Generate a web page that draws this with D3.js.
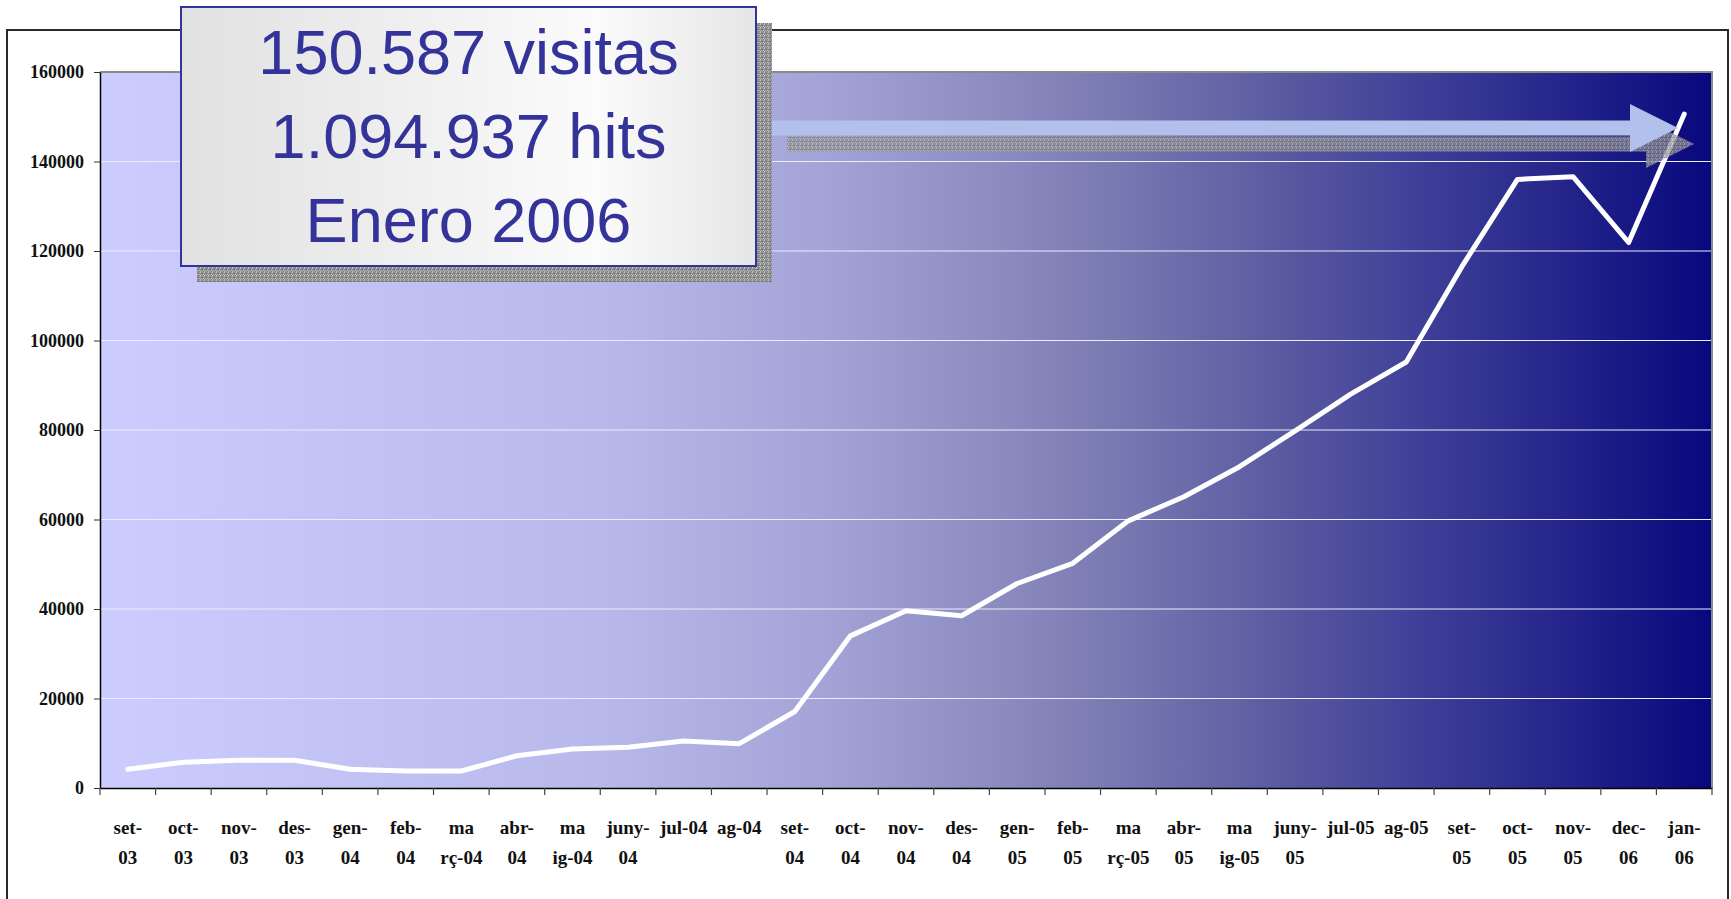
<!DOCTYPE html>
<html>
<head>
<meta charset="utf-8">
<script src="https://cdn.jsdelivr.net/npm/d3@7"></script>
<style>
  body { margin: 0; background: #fff; }
  svg { display: block; }
</style>
</head>
<body>
<div id="chart"></div>
<script>
// Monthly visits, set-03 .. jan-06
const categories = ['set-03', 'oct-03', 'nov-03', 'des-03', 'gen-04', 'feb-04', 'març-04', 'abr-04', 'maig-04', 'juny-04',
    'jul-04', 'ag-04', 'set-04', 'oct-04', 'nov-04', 'des-04', 'gen-05', 'feb-05', 'març-05', 'abr-05',
    'maig-05', 'juny-05', 'jul-05', 'ag-05', 'set-05', 'oct-05', 'nov-05', 'dec-06', 'jan-06'];
// how the labels wrap in the original (two lines)
const labelLines = [['set-', '03'], ['oct-', '03'], ['nov-', '03'], ['des-', '03'], ['gen-', '04'], ['feb-', '04'],
    ['ma', 'rç-04'], ['abr-', '04'], ['ma', 'ig-04'], ['juny-', '04'], ['jul-04', ''], ['ag-04', ''],
    ['set-', '04'], ['oct-', '04'], ['nov-', '04'], ['des-', '04'], ['gen-', '05'], ['feb-', '05'],
    ['ma', 'rç-05'], ['abr-', '05'], ['ma', 'ig-05'], ['juny-', '05'], ['jul-05', ''], ['ag-05', ''],
    ['set-', '05'], ['oct-', '05'], ['nov-', '05'], ['dec-', '06'], ['jan-', '06']];
const visits = [4200, 5750, 6200, 6200, 4200, 3800, 3800, 7200, 8700, 9100,
    10500, 9900, 17100, 34000, 39600, 38500, 45700, 50200, 59700, 65100,
    71800, 79800, 88000, 95200, 116500, 136000, 136600, 121900, 150587];
const yTicks = [0, 20000, 40000, 60000, 80000, 100000, 120000, 140000, 160000];
const boxLines = ['150.587 visitas', '1.094.937 hits', 'Enero 2006'];

const W = 1731, H = 899;
const margin = { top: 72, right: 19, bottom: 111, left: 100 };

const svg = d3.select('#chart').append('svg')
    .attr('width', W)
    .attr('height', H);

const defs = svg.append('defs');

// plot area gradient
const grad = defs.append('linearGradient').attr('id', 'plotGrad');
[[0, '#ccccff'], [0.31, '#b8b8ea'], [0.45, '#a3a3d7'], [0.56, '#8b8bc0'], [0.62, '#7c7cb4'],
 [0.745, '#56569f'], [0.81, '#42429a'], [0.87, '#303090'], [1, '#08087e']].forEach(s => {
    grad.append('stop').attr('offset', s[0]).attr('stop-color', s[1]);
});

// text box gradient
const boxGrad = defs.append('linearGradient').attr('id', 'boxGrad');
boxGrad.append('stop').attr('offset', 0).attr('stop-color', '#e1e1e1');
boxGrad.append('stop').attr('offset', 0.72).attr('stop-color', '#fbfbfb');
boxGrad.append('stop').attr('offset', 1).attr('stop-color', '#e6e6e6');

// stippled shadow texture
const pat = defs.append('pattern').attr('id', 'stipple')
    .attr('width', 4).attr('height', 4).attr('patternUnits', 'userSpaceOnUse');
pat.append('rect').attr('width', 4).attr('height', 4).attr('fill', '#8e8e8e');
[[0, 0, '#b4b4b4'], [2, 1, '#6c6c6c'], [1, 2, '#aaaaaa'], [3, 3, '#767676'], [3, 0, '#9c9c9c'],
 [0, 3, '#c2c2c2'], [1, 1, '#808080'], [2, 3, '#a0a0a0'], [3, 2, '#c8c8c8']].forEach(p => {
    pat.append('rect').attr('x', p[0]).attr('y', p[1]).attr('width', 1).attr('height', 1).attr('fill', p[2]);
});

// outer chart frame
svg.append('rect')
    .attr('x', 7).attr('y', 30)
    .attr('width', 1721).attr('height', 900)
    .attr('fill', '#fff')
    .attr('stroke', '#2a2a2a')
    .attr('stroke-width', 2);

const width = W - margin.left - margin.right;
const height = H - margin.top - margin.bottom;

const g = svg.append('g').attr('transform', `translate(${margin.left},${margin.top})`);

const x = d3.scaleBand().domain(categories).range([0, width]).padding(0);
const y = d3.scaleLinear().domain([0, 160000]).range([height, 0]);

g.append('rect')
    .attr('width', width).attr('height', height)
    .attr('fill', 'url(#plotGrad)');

// gridlines
g.append('g')
    .selectAll('line')
    .data(yTicks.filter(d => d > 0 && d < 160000))
    .enter().append('line')
    .attr('x1', 0).attr('x2', width)
    .attr('y1', d => y(d)).attr('y2', d => y(d))
    .attr('stroke', '#ececff')
    .attr('stroke-width', 1);

// plot border (top / right)
g.append('path')
    .attr('d', `M0,${y(160000)}H${width}V${height}`)
    .attr('fill', 'none')
    .attr('stroke', '#8a8a8a')
    .attr('stroke-width', 2);

// y axis
const yAxis = d3.axisLeft(y).tickValues(yTicks).tickSize(6).tickSizeOuter(0).tickPadding(10)
    .tickFormat(d3.format('d'));
const ya = g.append('g').call(yAxis);
ya.select('.domain').attr('stroke', '#000').attr('stroke-width', 1.5);
ya.selectAll('.tick line').attr('stroke', '#333');
ya.selectAll('text')
    .style('font-family', '"Liberation Serif", "Times New Roman", serif')
    .style('font-weight', 'bold')
    .style('font-size', '18px')
    .attr('fill', '#111');

// x axis: domain line, ticks at band edges, wrapped labels
const xa = g.append('g').attr('transform', `translate(0,${height})`)
    .call(d3.axisBottom(x).tickSize(0).tickSizeOuter(0).tickFormat(''));
xa.select('.domain').attr('stroke', '#000').attr('stroke-width', 1.5);

const edges = categories.map(c => x(c)).concat([x.range()[1]]);
xa.selectAll('.edge')
    .data(edges)
    .enter().append('line')
    .attr('class', 'edge')
    .attr('x1', d => d).attr('x2', d => d)
    .attr('y1', 0).attr('y2', 7)
    .attr('stroke', '#444')
    .attr('stroke-width', 1.2);

const lbl = xa.selectAll('.lbl')
    .data(categories)
    .enter().append('text')
    .attr('class', 'lbl')
    .attr('text-anchor', 'middle')
    .style('font-family', '"Liberation Serif", "Times New Roman", serif')
    .style('font-weight', 'bold')
    .style('font-size', '19px')
    .attr('fill', '#111');
lbl.each(function(d, i) {
    const t = d3.select(this);
    const cx = x(d) + x.bandwidth() / 2;
    t.append('tspan').attr('x', cx).attr('y', 46).text(labelLines[i][0]);
    if (labelLines[i][1]) t.append('tspan').attr('x', cx).attr('y', 76).text(labelLines[i][1]);
});

// the series line
const line = d3.line()
    .x((d, i) => x(categories[i]) + x.bandwidth() / 2)
    .y(d => y(d));

g.append('path')
    .datum(visits)
    .attr('d', line)
    .attr('fill', 'none')
    .attr('stroke', '#fff')
    .attr('stroke-width', 5)
    .attr('stroke-linejoin', 'round')
    .attr('stroke-linecap', 'round');

// annotation arrow
function arrowPath(x0, x1, cy, shaft, headX, headHalf) {
    return `M${x0},${cy - shaft / 2}H${headX}V${cy - headHalf}L${x1},${cy}L${headX},${cy + headHalf}V${cy + shaft / 2}H${x0}Z`;
}
svg.append('path')
    .attr('d', arrowPath(787, 1694, 144, 15, 1646, 24))
    .attr('fill', 'url(#stipple)')
    .attr('opacity', 0.75);
svg.append('path')
    .attr('d', arrowPath(771, 1678, 128, 15, 1630, 24))
    .attr('fill', '#b1c1eb');

// text box with shadow
const box = { x: 181, y: 7, w: 575, h: 259 };
svg.append('rect')
    .attr('x', box.x + 16).attr('y', box.y + 16)
    .attr('width', box.w).attr('height', box.h)
    .attr('fill', 'url(#stipple)');
svg.append('rect')
    .attr('x', box.x).attr('y', box.y)
    .attr('width', box.w).attr('height', box.h)
    .attr('fill', 'url(#boxGrad)')
    .attr('stroke', '#333399')
    .attr('stroke-width', 2);

svg.append('g')
    .selectAll('text')
    .data(boxLines)
    .enter().append('text')
    .attr('x', box.x + box.w / 2)
    .attr('y', (d, i) => 74 + i * 84)
    .attr('text-anchor', 'middle')
    .style('font-family', '"Liberation Sans", Arial, sans-serif')
    .style('font-size', '63px')
    .attr('fill', '#333399')
    .text(d => d);
</script>
</body>
</html>
